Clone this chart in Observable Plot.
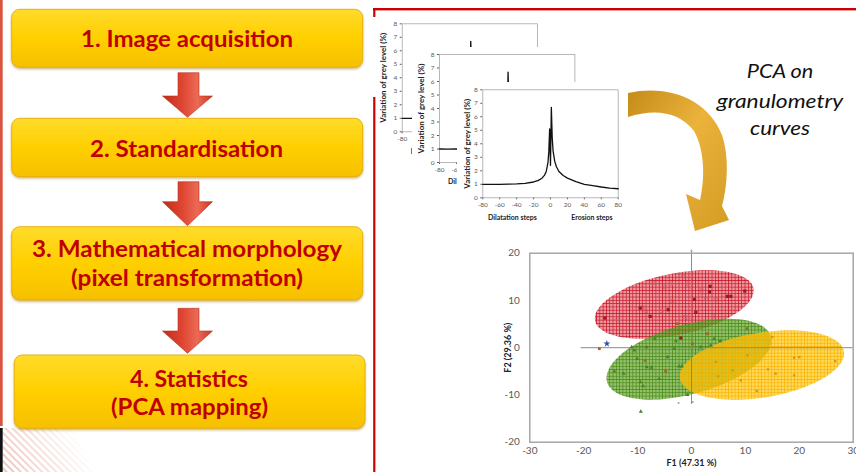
<!DOCTYPE html>
<html><head><meta charset="utf-8">
<script src="https://cdn.jsdelivr.net/npm/d3@7"></script>
<script src="https://cdn.jsdelivr.net/npm/@observablehq/plot@0.6"></script>
<style>
html,body{margin:0;padding:0;background:#fff;overflow:hidden}
#stage{position:relative;width:856px;height:472px;overflow:hidden;background:#fff}
.layer{position:absolute;left:0;top:0}
.chart{position:absolute}
.chart svg{display:block}
</style></head><body>
<div id="stage">
<svg id="deco" class="layer" width="856" height="472" xmlns="http://www.w3.org/2000/svg">
  <defs>
    <linearGradient id="boxGrad" x1="0" y1="0" x2="0" y2="1">
      <stop offset="0" stop-color="#ffdb2a"/>
      <stop offset="0.5" stop-color="#ffcf00"/>
      <stop offset="1" stop-color="#f6c000"/>
    </linearGradient>
    <linearGradient id="arrowGrad" x1="0" y1="0" x2="1" y2="0">
      <stop offset="0" stop-color="#bf2d1a"/>
      <stop offset="0.4" stop-color="#de4632"/>
      <stop offset="0.7" stop-color="#ec6a55"/>
      <stop offset="1" stop-color="#c9361f"/>
    </linearGradient>
    <filter id="boxShadow" x="-5%" y="-10%" width="110%" height="130%">
      <feDropShadow dx="0" dy="1.5" stdDeviation="1" flood-color="#9a6a00" flood-opacity="0.5"/>
    </filter>
    <pattern id="hatch" patternUnits="userSpaceOnUse" width="5" height="5" patternTransform="rotate(-45)">
      <line x1="1" y1="0" x2="1" y2="5" stroke="#eab3a8" stroke-width="1.6"/>
    </pattern>
    <linearGradient id="fadeGrad" gradientUnits="userSpaceOnUse" x1="3" y1="472" x2="75" y2="430">
      <stop offset="0" stop-color="#fff"/>
      <stop offset="1" stop-color="#000"/>
    </linearGradient>
    <mask id="fadeMask"><rect x="0" y="420" width="100" height="60" fill="url(#fadeGrad)"/></mask>
    <pattern id="patRed" patternUnits="userSpaceOnUse" width="3.3" height="3.3">
      <rect width="3.3" height="3.3" fill="rgba(220,50,64,0.5)"/>
      <path d="M0 0.4H3.3M0.4 0V3.3" stroke="rgba(196,14,30,0.85)" stroke-width="0.8"/>
    </pattern>
    <pattern id="patGreen" patternUnits="userSpaceOnUse" width="3.3" height="3.3">
      <rect width="3.3" height="3.3" fill="rgba(92,160,34,0.66)"/>
      <path d="M0 0.4H3.3M0.4 0V3.3" stroke="rgba(70,138,20,0.88)" stroke-width="0.8"/>
    </pattern>
    <pattern id="patYellow" patternUnits="userSpaceOnUse" width="3.3" height="3.3">
      <rect width="3.3" height="3.3" fill="rgba(255,196,0,0.64)"/>
      <path d="M0 0.4H3.3M0.4 0V3.3" stroke="rgba(250,178,0,0.9)" stroke-width="0.8"/>
    </pattern>
  </defs>
  <rect x="0" y="0" width="2.7" height="426" fill="#d9553f"/>
  <rect x="0" y="428" width="2.7" height="44" fill="#111"/>
  <rect x="3" y="428" width="90" height="44" fill="url(#hatch)" mask="url(#fadeMask)"/>
  <g id="flow"></g>
  <rect x="373" y="8" width="483" height="2.4" fill="#cc0000"/>
  <rect x="373.2" y="8" width="2.2" height="9" fill="#cc0000"/>
  <rect x="373.2" y="97" width="2.2" height="375" fill="#cc0000"/>
</svg>
<div id="chartA" class="chart"></div>
<div id="chartB" class="chart"></div>
<div id="chartC" class="chart"></div>
<div id="chartPCA" class="chart"></div>
<svg id="over" class="layer" width="856" height="472" xmlns="http://www.w3.org/2000/svg" style="pointer-events:none">
  <defs>
    <linearGradient id="goldGrad" x1="0" y1="0" x2="1" y2="1">
      <stop offset="0" stop-color="#c48c18"/>
      <stop offset="0.45" stop-color="#ebb23c"/>
      <stop offset="1" stop-color="#d39c22"/>
    </linearGradient>
  </defs>
  <path d="M628,93 C670,84 708,100 722,135 C729,155 728,185 722,206 L729,220 L695,231 L686,194 L700,200 C705,180 705,150 694,131 C680,112 655,108 628,117 Z" fill="url(#goldGrad)"/>
  <g id="caption"></g>
</svg>
</div>
<script>
// ---------------- data ----------------
const stepLines = [
  ["1. Image acquisition"],
  ["2. Standardisation"],
  ["3. Mathematical morphology", "(pixel transformation)"],
  ["4. Statistics", "(PCA mapping)"]
];
const captionLines = ["PCA on", "granulometry", "curves"];

// granulometry curve (variation of grey level, %)
const granX = [-80,-70,-60,-50,-40,-30,-20,-15,-10,-7,-5,-3,-2,-1,0,1,2,3,5,7,10,15,20,30,40,50,60,70,80];
const granY = [1.0,0.99,1.0,1.01,1.03,1.07,1.17,1.27,1.45,1.68,1.95,2.6,3.4,5.1,2.4,6.7,4.5,3.5,2.7,2.3,1.95,1.65,1.46,1.2,1.0,0.9,0.8,0.72,0.67];
const granXTicks = [-80,-60,-40,-20,0,20,40,60,80];
const granYTicks = [0,1,2,3,4,5,6,7,8];
const granYLabel = "Variation of grey level (%)";
const granXTitles = ["Dilatation steps", "Erosion steps"];
const granXTitleAt = [-45, 49];
// back charts: only the parts left visible by the charts stacked in front
const backAXTicks = [-80];
const backAXTitles = ["D"];
const backBXTicks = [-80, -60];
const backBXTitles = ["Dil"];
const backXTitleAt = [-70];

// PCA
const pcaXTicks = [-30,-20,-10,0,10,20,30];
const pcaYTicks = [-20,-10,0,10,20];
const pcaXLabel = "F1 (47.31 %)";
const pcaYLabel = "F2 (29.36 %)";

const ellipseFill = ["url(#patRed)", "url(#patGreen)", "url(#patYellow)"];
const ellipseCx = [-3.2, -0.47, 13.07];
const ellipseCy = [9.15, -2.43, -3.67];
const ellipseA = [15.1, 15.95, 15.48];
const ellipseB = [6.47, 7.27, 6.83];
const ellipseAngle = [13.9, 18.6, 11.2];

const redFilled = [[3.46,12.98],[3.34,11.78],[6.68,10.86],[7.3,10.86],[9.89,11.99],[0.8,7.48],[-16.08,6.28],[-7.67,6.63],[-4.33,8.04],[0.56,10.23],[-9.52,8.39],[-1.98,2.05]];
const redHollow = [[-1.55,15.1],[-7.05,13.69],[-3.83,13.55],[-4.95,12.84],[1.86,12.13],[2.72,10.23],[-3.59,9.88],[-9.09,8.61],[-8.47,7.76],[-5.57,7.76],[-13.73,5.93],[-1.24,6.49],[-0.74,6.35],[4.02,6.63],[-0.74,13.55],[4.51,10.16]];
const greenBrown = [[-2.6,5.08],[2.97,2.96],[0.19,0.85],[10.27,4.02],[-8.6,-2.68],[-4.8,-5.0],[-17.1,-0.2]];
const greenTri = [[5.32,1.41],[4.2,1.9],[-2.9,1.41],[-3.2,-0.2],[-6.8,1.9],[-8.35,0.14],[-10.6,-0.56],[-11.1,0.14],[-10.1,-2.33],[-8.3,-4.09],[-7.4,-4.23],[-2.3,-3.95],[-1.8,-3.95],[-14.3,-5.0],[-12.6,-5.5],[-9.5,-7.27],[-9.0,-8.1],[-0.74,-9.95],[1.73,0.14],[3.6,0.5],[-9.4,-13.5],[-6.0,-6.6],[-4.45,-2.0]];
const yellowDots = [[26.65,-2.82],[14.2,-4.59],[19.05,-5.86],[20.0,-1.98],[19.05,-2.12],[15.6,-5.5],[12.1,-9.17],[4.95,-6.07],[7.6,-4.8],[15.0,2.26],[4.5,-3.0],[10.4,-1.6],[9.15,-6.9]];
const blueStar = [[-15.7,0.85]];
const pinkDots = [[-2.4,-11.7],[0.25,-11.5],[0,20.5]];

// ---------------- decoration (flowchart) ----------------
const NS = "http://www.w3.org/2000/svg";
function el(tag, attrs, parent, text) {
  const e = document.createElementNS(NS, tag);
  for (const k in attrs) e.setAttribute(k, attrs[k]);
  if (text != null) e.textContent = text;
  parent.appendChild(e);
  return e;
}
const flow = document.getElementById("flow");
const boxes = [
  {x:11.7, y:9.3, w:351, h:58},
  {x:11.7, y:118.3, w:351, h:58.4},
  {x:11.7, y:226.7, w:351, h:73.3},
  {x:14.3, y:355, w:350.7, h:73.3}
];
const lineLayout = [
  [{cx:187, by:47.3, len:212}],
  [{cx:186.5, by:157, len:193}],
  [{cx:187, by:257.3, len:310}, {cx:187, by:285.5, len:232}],
  [{cx:189, by:386.7, len:118}, {cx:189.5, by:415, len:157}]
];
const arrows = [
  {y0:72.7, y1:96, y2:117.3},
  {y0:181.7, y1:201.7, y2:225.7},
  {y0:308.3, y1:331, y2:353.3}
];
boxes.forEach((b, i) => {
  el("rect", {x:b.x, y:b.y, width:b.w, height:b.h, rx:8, ry:8, fill:"url(#boxGrad)", stroke:"#e3a800", "stroke-width":0.8, filter:"url(#boxShadow)"}, flow);
  stepLines[i].forEach((t, j) => {
    const L = lineLayout[i][j];
    el("text", {x:L.cx, y:L.by, "text-anchor":"middle", "font-family":"Lato, 'Open Sans', sans-serif", "font-weight":"bold", "font-size":23, fill:"#c00000", textLength:L.len, lengthAdjust:"spacingAndGlyphs"}, flow, t);
  });
});
arrows.forEach(a => {
  const pts = [[178,a.y0],[199,a.y0],[199,a.y1],[212.5,a.y1],[187.5,a.y2],[162.5,a.y1],[178,a.y1]].map(p=>p.join(",")).join(" ");
  el("polygon", {points:pts, fill:"url(#arrowGrad)", stroke:"#b8301c", "stroke-width":0.6}, flow);
});
const cap = document.getElementById("caption");
const capLayout = [{by:78.3, len:66.6},{by:107.7, len:126.6},{by:135, len:60}];
captionLines.forEach((t, i) => {
  el("text", {x:780, y:capLayout[i].by, "text-anchor":"middle", "font-family":"Lato, 'Open Sans', sans-serif", "font-style":"italic", "font-size":19.5, fill:"#111", textLength:capLayout[i].len, lengthAdjust:"spacingAndGlyphs"}, cap, t);
});

// ---------------- granulometry charts ----------------
function place(id, left, top, svg) {
  const d = document.getElementById(id);
  d.style.left = left + "px";
  d.style.top = top + "px";
  d.style.width = svg.getAttribute("width") + "px";
  d.appendChild(svg);
}
function granChart({ml, mt, labelDx, xTicks, titles, titleAt, titleAnchor}) {
  const pw = 135.4, ph = 108, mr = 16, mb = 36;
  const data = granX.map((x, i) => ({x, y: granY[i]}));
  return Plot.plot({
    width: ml + pw + mr, height: mt + ph + mb,
    marginLeft: ml, marginRight: mr, marginTop: mt, marginBottom: mb,
    style: {fontFamily: "Lato, sans-serif", fontSize: "6.5px", color: "#595959", background: "white"},
    x: {domain: [-80, 80], ticks: xTicks, tickSize: 2, tickPadding: 3, tickFormat: d => String(d), label: null},
    y: {domain: [0, 8], ticks: granYTicks, tickSize: 2, tickPadding: 3, tickFormat: d => String(d), label: null},
    marks: [
      Plot.frame({stroke: "#a6a6a6", strokeWidth: 0.8}),
      Plot.line(data, {x: "x", y: "y", stroke: "#111", strokeWidth: 1.3}),
      Plot.text(titles, {x: (d, i) => titleAt[i], frameAnchor: "bottom", dy: 22, textAnchor: titleAnchor, fontWeight: "bold", fill: "#222", fontSize: 7}),
      Plot.text([granYLabel], {frameAnchor: "left", dx: labelDx, rotate: -90, textAnchor: "middle", fontWeight: "bold", fill: "#222", fontSize: 8})
    ]
  });
}
place("chartA", 377, 17, granChart({ml: 24.7, mt: 6.3, labelDx: -19, xTicks: backAXTicks, titles: backAXTitles, titleAt: backXTitleAt, titleAnchor: "start"}));
place("chartB", 412, 47, granChart({ml: 27, mt: 7, labelDx: -17.8, xTicks: backBXTicks, titles: backBXTitles, titleAt: backXTitleAt, titleAnchor: "start"}));
place("chartC", 457, 82, granChart({ml: 25.3, mt: 7.3, labelDx: -15.3, xTicks: granXTicks, titles: granXTitles, titleAt: granXTitleAt, titleAnchor: "middle"}));

// ---------------- PCA chart ----------------
function ellipse(i) {
  const th = ellipseAngle[i] * Math.PI / 180;
  return d3.range(0, 360, 4).map(t => {
    const r = t * Math.PI / 180;
    const u = ellipseA[i] * Math.cos(r), v = ellipseB[i] * Math.sin(r);
    return {x: ellipseCx[i] + u * Math.cos(th) - v * Math.sin(th), y: ellipseCy[i] + u * Math.sin(th) + v * Math.cos(th)};
  });
}
const px = d => d[0], py = d => d[1];
const pca = Plot.plot({
  width: 366, height: 232,
  marginLeft: 39.3, marginRight: 3.3, marginTop: 12.7, marginBottom: 30.3,
  style: {fontFamily: "Lato, sans-serif", fontSize: "10px", color: "#595959", background: "white"},
  x: {domain: [-30, 30], ticks: pcaXTicks, tickSize: 0, tickPadding: 5, tickFormat: d => String(d), label: null},
  y: {domain: [-20, 20], ticks: pcaYTicks, tickSize: 0, tickPadding: 10, tickFormat: d => String(d), label: null},
  marks: [
    ...ellipseFill.map((f, i) => Plot.line(ellipse(i), {x: "x", y: "y", curve: "linear-closed", fill: f, stroke: "none"})),
    Plot.ruleY([0], {x1: -20.5, x2: 30, stroke: "#7f7f7f", strokeWidth: 0.9}),
    Plot.ruleX([0], {y1: -12, y2: 20.6, stroke: "#7f7f7f", strokeWidth: 0.9}),
    Plot.frame({stroke: "#a6a6a6", strokeWidth: 1.5}),
    Plot.dot(redHollow, {x: px, y: py, symbol: "square", r: 1.8, stroke: "#c8606a", strokeWidth: 0.7, fill: "none"}),
    Plot.dot(redFilled, {x: px, y: py, symbol: "square", r: 1.8, fill: "#9a1a24"}),
    Plot.dot(greenBrown, {x: px, y: py, symbol: "square", r: 1.6, fill: "#9c6a28"}),
    Plot.dot(greenTri, {x: px, y: py, symbol: "triangle", r: 1.5, fill: "#4f7f2a"}),
    Plot.dot(yellowDots, {x: px, y: py, symbol: "square", r: 1.3, fill: "#c99a22"}),
    Plot.dot(blueStar, {x: px, y: py, symbol: "star", r: 2.2, fill: "#2f4f9f"}),
    Plot.dot(pinkDots, {x: px, y: py, r: 1, fill: "#c98ab5"}),
    Plot.text([pcaXLabel], {frameAnchor: "bottom", dy: 23.5, fontWeight: "bold", fill: "#222", fontSize: 9}),
    Plot.text([pcaYLabel], {frameAnchor: "left", dx: -21.5, rotate: -90, textAnchor: "middle", fontWeight: "bold", fill: "#222", fontSize: 9})
  ]
});
place("chartPCA", 490, 240, pca);
</script>
</body></html>
